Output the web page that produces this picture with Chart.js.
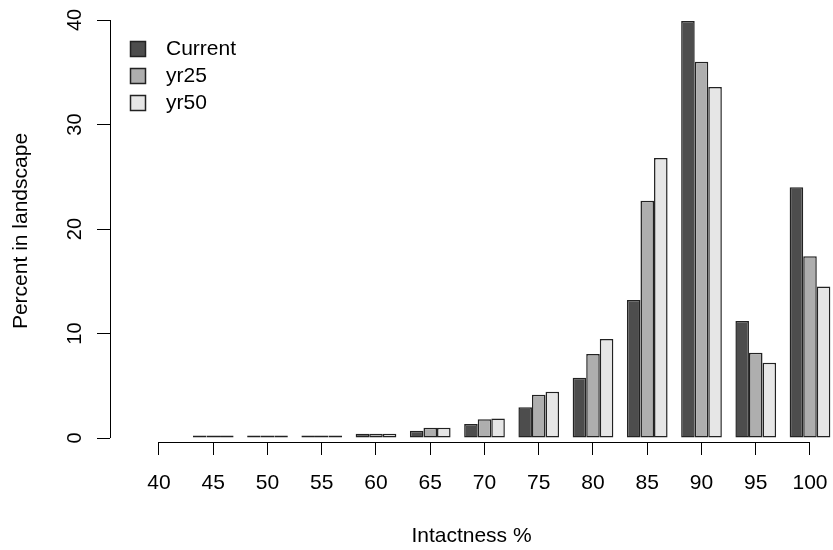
<!DOCTYPE html>
<html>
<head>
<meta charset="utf-8">
<script src="https://cdn.jsdelivr.net/npm/chart.js@4"></script>
<style>
html,body{margin:0;padding:0;background:#fff;}
#wrap{width:833px;height:550px;}
</style>
</head>
<body>
<div id="wrap"><canvas id="c" width="833" height="550"></canvas></div>
<script>
// ---- data ----
const categories = [40, 45, 50, 55, 60, 65, 70, 75, 80, 85, 90, 95, 100];
const seriesNames = ["Current", "yr25", "yr50"];
const currentVals = [0.04, 0.25, 0.25, 0.25, 0.42, 0.70, 1.34, 2.94, 5.77, 13.2, 39.9, 11.2, 24.0];
const yr25Vals    = [0.04, 0.25, 0.25, 0.25, 0.42, 0.99, 1.79, 4.14, 8.04, 22.7, 36.0, 8.16, 17.4];
const yr50Vals    = [0.04, 0.25, 0.25, 0.25, 0.42, 0.99, 1.88, 4.43, 9.47, 26.8, 33.6, 7.2, 14.5];
const yTicks = [0, 10, 20, 30, 40];
const xTitle = "Intactness %";
const yTitle = "Percent in landscape";

const colors = ["#4D4D4D", "#AEAEAE", "#E6E6E6"];
const FONT = "'Liberation Sans', Arial, sans-serif";

function toPoints(vals){ return categories.map((c,i)=>({x:c, y:vals[i]})); }
const allVals = [currentVals, yr25Vals, yr50Vals];

const rAxes = {
  id: 'rAxes',
  afterDraw(chart){
    const ctx = chart.ctx;
    const xs = chart.scales.x, ys = chart.scales.y, ca = chart.chartArea;
    ctx.save();
    ctx.strokeStyle = '#000';
    ctx.lineWidth = 1;
    // y axis line (R style: from first to last tick)
    ctx.beginPath();
    const yl = Math.round(ca.left) + 0.5;
    ctx.moveTo(yl, ys.getPixelForValue(yTicks[0]));
    ctx.lineTo(yl, ys.getPixelForValue(yTicks[yTicks.length-1]));
    ctx.stroke();
    // x axis line
    ctx.beginPath();
    const xl = Math.round(ca.bottom) + 0.5;
    ctx.moveTo(xs.getPixelForValue(categories[0]), xl);
    ctx.lineTo(xs.getPixelForValue(categories[categories.length-1]), xl);
    ctx.stroke();
    // legend
    ctx.font = "21px " + FONT;
    ctx.textBaseline = 'middle';
    ctx.textAlign = 'left';
    chart.data.datasets.forEach((ds, i) => {
      const cy = ca.top + 28.5 + i * 27;
      const bx = ca.left + 20;
      ctx.fillStyle = ds.backgroundColor;
      ctx.fillRect(bx, cy - 7.5, 15, 15);
      ctx.strokeStyle = '#222';
      ctx.lineWidth = 1.5;
      ctx.strokeRect(bx + 0.5, cy - 7, 15, 15);
      ctx.fillStyle = '#000';
      ctx.fillText(ds.label, ca.left + 56, cy + 1);
    });
    ctx.restore();
  }
};

new Chart(document.getElementById('c'), {
  type: 'bar',
  data: {
    datasets: seriesNames.map((n, i) => ({
      label: n,
      data: toPoints(allVals[i]),
      backgroundColor: colors[i],
      borderColor: '#222',
      borderWidth: 1.5,
      borderSkipped: false,
      categoryPercentage: 0.75,
      barPercentage: 1.0
    }))
  },
  options: {
    responsive: false,
    animation: false,
    devicePixelRatio: 1,
    layout: { autoPadding: false, padding: { top: 20, right: 0, bottom: 0, left: 0 } },
    plugins: { legend: { display: false }, tooltip: { enabled: false } },
    scales: {
      x: {
        type: 'linear',
        offset: false,
        min: 35.484,
        max: 102.12,
        afterBuildTicks(scale){ scale.ticks = categories.map(v => ({ value: v })); },
        afterFit(scale){ scale.height = 108; scale.paddingLeft = 0; scale.paddingRight = 0; scale.paddingTop = 0; scale.paddingBottom = 0; },
        grid: { display: true, drawOnChartArea: false, drawTicks: true, tickLength: 13, color: '#000', lineWidth: 1, offset: false },
        border: { display: false },
        ticks: { color: '#000', font: { family: FONT, size: 21 }, padding: 16, maxRotation: 0, minRotation: 0, autoSkip: false },
        title: { display: true, text: xTitle, color: '#000', font: { family: FONT, size: 21 }, padding: { top: 0, bottom: 1 } }
      },
      y: {
        type: 'linear',
        min: -0.38,
        max: 40,
        afterBuildTicks(scale){ scale.ticks = yTicks.map(v => ({ value: v })); },
        afterFit(scale){ scale.width = 110; scale.paddingLeft = 0; scale.paddingRight = 0; scale.paddingTop = 0; scale.paddingBottom = 0; },
        grid: { display: true, drawOnChartArea: false, drawTicks: true, tickLength: 13, color: '#000', lineWidth: 1 },
        border: { display: false },
        ticks: { color: '#000', font: { family: FONT, size: 20 }, padding: 10, minRotation: 90, maxRotation: 90, crossAlign: 'center', autoSkip: false },
        title: { display: true, text: yTitle, color: '#000', font: { family: FONT, size: 21 }, padding: { top: 9, bottom: 0 } }
      }
    }
  },
  plugins: [rAxes]
});
</script>
</body>
</html>
